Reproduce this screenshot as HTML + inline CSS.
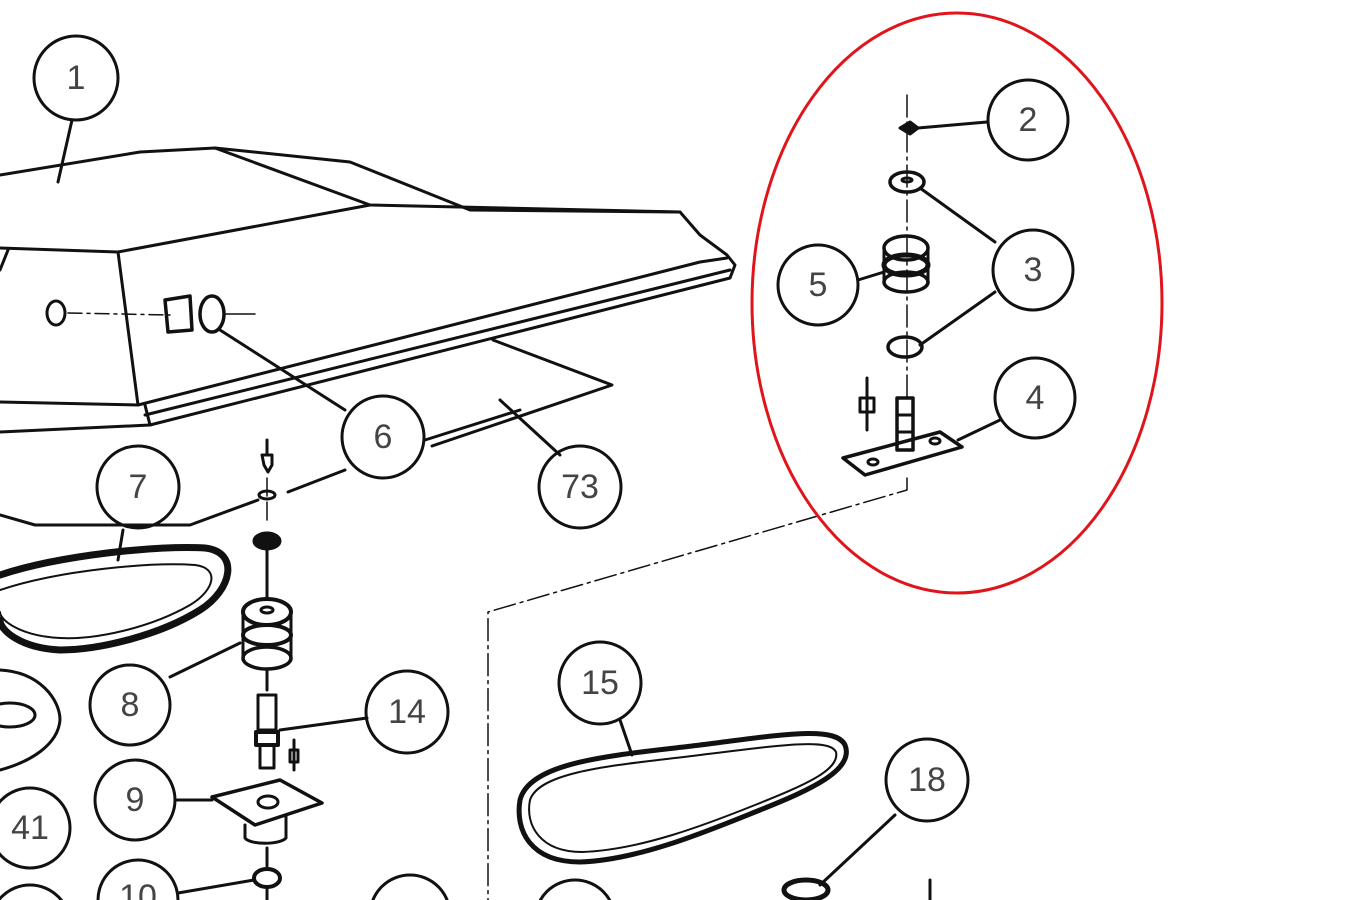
<!DOCTYPE html>
<html><head><meta charset="utf-8"><style>
html,body{margin:0;padding:0;background:#fff;width:1349px;height:900px;overflow:hidden}
svg{display:block}
text{font-family:"Liberation Sans",sans-serif;font-size:34px;fill:#444;text-anchor:middle;dominant-baseline:central}
</style></head><body>
<svg width="1349" height="900" viewBox="0 0 1349 900" xmlns="http://www.w3.org/2000/svg">
<g fill="none" stroke="#111" stroke-width="3" stroke-linecap="round" stroke-linejoin="round">
<path d="M0 175 L140 152 L215 148 L350 162 L470 210 L680 212 L700 235 L727 255 L735 265 L730 278 L150 425 L0 432"/>
<path d="M215 148 L370 205 L680 212"/>
<path d="M0 248 L118 252 L370 205"/>
<path d="M118 252 L138 405 L0 402"/>
<path d="M0 270 L8 250"/>
<path d="M138 405 L700 262 L727 258"/>
<path d="M145 415 L730 270"/>
<path d="M145 405 L150 425"/>
<path d="M493 340 L612 385 L432 446"/>
<path d="M500 400 L560 455"/>
<path d="M72 120 L58 182"/>
<ellipse cx="56" cy="313" rx="9" ry="12"/>
<path d="M68 313 L170 315" stroke-dasharray="14 5 3 5" stroke-width="1.5"/>
<path d="M165 300 L190 296 L192 330 L168 332 Z" stroke-width="3.5"/>
<ellipse cx="212" cy="314" rx="12" ry="18" stroke-width="3.5"/>
<path d="M225 314 L255 314" stroke-width="1.5"/>
<path d="M220 330 L345 410"/>
<path d="M0 515 L35 525 L190 525 L258 500"/>
<path d="M288 492 L345 470"/>
<path d="M425 440 L520 410" />
<path d="M0 575 C60 555 160 545 205 548 C240 552 232 590 200 610 C160 635 100 650 60 650 C20 648 0 630 0 620" stroke-width="7"/>
<path d="M0 590 C60 570 150 562 195 565 C220 568 215 590 190 605 C150 628 95 640 60 638 C20 636 0 620 0 612" stroke-width="2"/>
<path d="M123 530 L118 560"/>
<path d="M0 670 C40 672 60 700 60 720 C58 745 30 762 0 770"/>
<ellipse cx="10" cy="715" rx="25" ry="12"/>
<path d="M267 440 L267 455 M262 455 L272 455 L272 465 L268 472 L264 465 Z" />
<path d="M267 478 L267 525" stroke-width="1.5" stroke-dasharray="18 6"/>
<ellipse cx="267" cy="495" rx="8" ry="4"/>
<ellipse cx="267" cy="541" rx="13" ry="8" fill="#111"/>
<path d="M267 550 L267 598"/>
<path d="M243 612 L243 660 M291 612 L291 660"/>
<ellipse cx="267" cy="612" rx="24" ry="13" stroke-width="4"/>
<ellipse cx="267" cy="610" rx="6" ry="3"/>
<ellipse cx="267" cy="635" rx="24" ry="10" stroke-width="4"/>
<ellipse cx="267" cy="658" rx="24" ry="11" stroke-width="3.5"/>
<path d="M240 643 L170 677"/>
<path d="M267 670 L267 690"/>
<path d="M258 695 L276 695 L276 730 L258 730 Z"/>
<path d="M256 732 L278 732 L278 745 L256 745 Z" stroke-width="4"/>
<path d="M260 745 L260 768 L274 768 L274 745"/>
<path d="M280 730 L367 718"/>
<path d="M294 740 L294 770 M290 750 L298 750 L298 762 L290 762 Z"/>
<path d="M212 797 L280 780 L322 803 L255 825 Z" stroke-width="3.5"/>
<ellipse cx="268" cy="802" rx="10" ry="6" stroke-width="3"/>
<path d="M177 800 L212 800"/>
<path d="M245 825 L245 838 C250 845 280 845 286 838 L286 815"/>
<ellipse cx="267" cy="878" rx="13" ry="9" stroke-width="4"/>
<path d="M254 880 L178 893"/>
<path d="M267 848 L267 866 M267 888 L267 900"/>
<path d="M907 95 L907 400" stroke-width="1.5" stroke-dasharray="22 5 3 5"/>
<path d="M900 128 L910 122 L918 128 L910 134 Z" fill="#111"/>
<path d="M918 128 L987 122"/>
<ellipse cx="907" cy="182" rx="17" ry="10" stroke-width="3.5"/>
<ellipse cx="907" cy="180" rx="5" ry="2"/>
<path d="M920 188 L995 242"/>
<ellipse cx="906" cy="248" rx="22" ry="12" stroke-width="3.5"/>
<ellipse cx="906" cy="265" rx="22" ry="10" stroke-width="5"/>
<ellipse cx="906" cy="282" rx="22" ry="10" stroke-width="3.5"/>
<path d="M884 248 L884 282 M928 248 L928 282"/>
<path d="M858 280 L884 272"/>
<ellipse cx="905" cy="347" rx="17" ry="10" stroke-width="3.5"/>
<path d="M920 345 L995 292"/>
<path d="M897 398 L913 398 L913 450 L897 450 Z" stroke-width="3.5"/>
<path d="M897 415 L913 415 M897 432 L913 432"/>
<path d="M867 378 L867 430 M860 398 L874 398 L874 412 L860 412 Z"/>
<path d="M843 458 L940 432 L962 447 L865 475 Z" stroke-width="3.5"/>
<ellipse cx="873" cy="462" rx="5" ry="3"/><ellipse cx="935" cy="441" rx="5" ry="3"/>
<path d="M958 440 L1000 420"/>
<path d="M907 478 L907 490 L488 612 L488 900" stroke-width="1.5" stroke-dasharray="22 5 3 5"/>
<path d="M520 800 C530 760 620 755 700 745 C780 735 835 725 845 745 C855 770 810 790 760 810 C710 830 640 860 580 862 C530 862 515 830 520 800 Z" stroke-width="5"/>
<path d="M530 800 C540 770 620 765 700 755 C780 745 830 738 836 752 C840 770 805 785 755 805 C705 825 640 850 582 852 C540 852 525 825 530 800 Z" stroke-width="2"/>
<path d="M620 720 L632 755"/>
<path d="M895 815 L820 885"/>
<ellipse cx="806" cy="890" rx="22" ry="10" stroke-width="5"/>
<path d="M930 880 L930 900"/>
<circle cx="76" cy="78" r="42"/>
<circle cx="1028" cy="120" r="40"/>
<circle cx="1033" cy="270" r="40"/>
<circle cx="818" cy="285" r="40"/>
<circle cx="1035" cy="398" r="40"/>
<circle cx="383" cy="437" r="41"/>
<circle cx="580" cy="487" r="41"/>
<circle cx="138" cy="487" r="41"/>
<circle cx="130" cy="705" r="40"/>
<circle cx="407" cy="712" r="41"/>
<circle cx="135" cy="800" r="40"/>
<circle cx="30" cy="828" r="40"/>
<circle cx="138" cy="900" r="40"/>
<circle cx="30" cy="925" r="40"/>
<circle cx="410" cy="915" r="40"/>
<circle cx="575" cy="920" r="40"/>
<circle cx="600" cy="683" r="41"/>
<circle cx="927" cy="780" r="41"/>
</g>
<ellipse cx="957" cy="303" rx="205" ry="290" fill="none" stroke="#e0151b" stroke-width="3"/>
<text x="76" y="78">1</text>
<text x="1028" y="120">2</text>
<text x="1033" y="270">3</text>
<text x="818" y="285">5</text>
<text x="1035" y="398">4</text>
<text x="383" y="437">6</text>
<text x="580" y="487">73</text>
<text x="138" y="487">7</text>
<text x="130" y="705">8</text>
<text x="407" y="712">14</text>
<text x="135" y="800">9</text>
<text x="30" y="828">41</text>
<text x="138" y="897">10</text>
<text x="600" y="683">15</text>
<text x="927" y="780">18</text>
</svg>
</body></html>
